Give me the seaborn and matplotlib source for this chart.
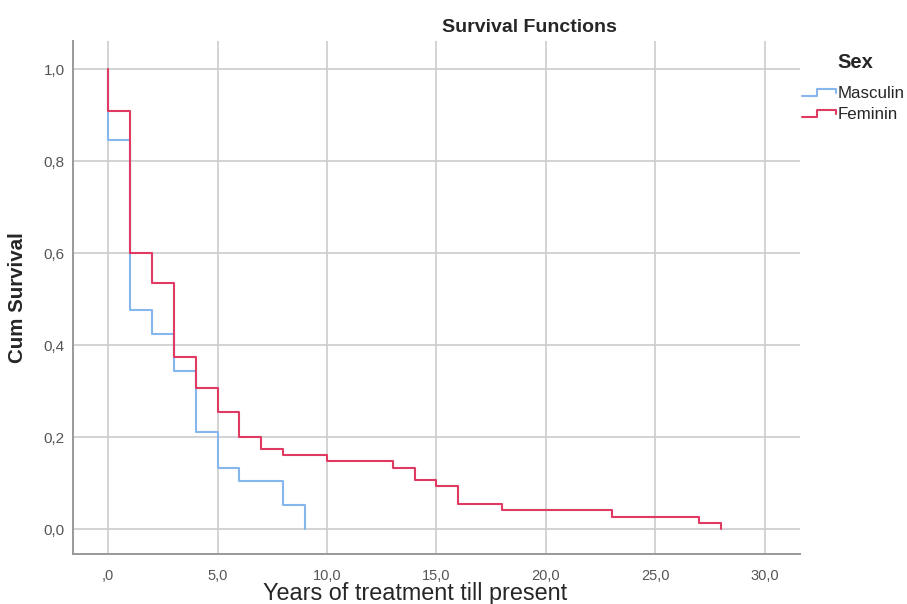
import numpy as np
import pandas as pd
import matplotlib
matplotlib.use("Agg")
import matplotlib.pyplot as plt
import seaborn as sns
from matplotlib.legend_handler import HandlerBase
from matplotlib.lines import Line2D

# Kaplan-Meier steps
men_years = [0, 0, 1, 2, 3, 4, 5, 6, 8, 9]
men_surv = [1.0, 0.846, 0.476, 0.423, 0.343, 0.211, 0.132, 0.105, 0.053, 0.0]
women_years = [0, 0, 1, 2, 3, 4, 5, 6, 7, 8, 10, 13, 14, 15, 16, 18, 23, 27, 28]
women_surv = [1.0, 0.91, 0.60, 0.536, 0.375, 0.307, 0.254, 0.201, 0.174, 0.161,
              0.147, 0.133, 0.107, 0.093, 0.054, 0.041, 0.027, 0.014, 0.0]
sex_labels = ["Masculin", "Feminin"]
x_ticks = [0, 5, 10, 15, 20, 25, 30]
x_ticklabels = [",0", "5,0", "10,0", "15,0", "20,0", "25,0", "30,0"]
y_ticks = [0.0, 0.2, 0.4, 0.6, 0.8, 1.0]
y_ticklabels = ["0,0", "0,2", "0,4", "0,6", "0,8", "1,0"]

df = pd.concat([
    pd.DataFrame({"years": men_years, "surv": men_surv, "Sex": sex_labels[0]}),
    pd.DataFrame({"years": women_years, "surv": women_surv, "Sex": sex_labels[1]}),
], ignore_index=True)

sns.set_style("white")
plt.rcParams['font.family'] = ['Liberation Sans', 'DejaVu Sans']

colors = {"Masculin": "#86b6ee", "Feminin": "#e03a62"}


class StepHandler(HandlerBase):
    # little step glyph like the SPSS legend
    def create_artists(self, legend, orig_handle, xdescent, ydescent, width, height, fontsize, trans):
        x0 = -xdescent
        y0 = -ydescent
        xs = [x0, x0 + 0.45 * width, x0 + 0.45 * width, x0 + width, x0 + width]
        ys = [y0 + 0.2 * height, y0 + 0.2 * height, y0 + 0.8 * height, y0 + 0.8 * height, y0 + 0.45 * height]
        line = Line2D(xs, ys, color=orig_handle.get_color(), lw=1.5, transform=trans)
        return [line]


fig = plt.figure(figsize=(9.07, 6.04), dpi=100)
ax = fig.add_axes([0.0805, 0.083, 0.8015, 0.849])

sns.lineplot(data=df, x="years", y="surv", hue="Sex", hue_order=sex_labels,
             palette=colors, estimator=None, sort=False, drawstyle="steps-post",
             lw=1.5, ax=ax)

ax.set_xlim(-1.6, 31.6)
ax.set_ylim(-0.054, 1.061)
ax.set_xticks(x_ticks)
ax.set_xticklabels(x_ticklabels)
ax.set_yticks(y_ticks)
ax.set_yticklabels(y_ticklabels)
ax.tick_params(length=0, labelsize=10.5, colors="#555555")
ax.tick_params(axis="x", pad=11)
ax.tick_params(axis="y", pad=6, labelsize=11)
ax.grid(True, color="#cccccc", lw=1.2)
ax.set_axisbelow(True)
for s in ["top", "right"]:
    ax.spines[s].set_visible(False)
for s in ["left", "bottom"]:
    ax.spines[s].set_color("#999999")
    ax.spines[s].set_linewidth(1.4)

ax.set_xlabel("Years of treatment till present", fontsize=16.8)
ax.xaxis.set_label_coords((415 - 73) / 727, -0.0545)
ax.set_ylabel("Cum Survival", fontsize=14.8, fontweight="bold")
ax.yaxis.set_label_coords(-0.063, 0.5)
fig.text(529 / 907, 1 - 27 / 604, "Survival Functions", ha="center", va="center",
         fontsize=14, fontweight="bold")
fig.text(837 / 907, 1 - 62 / 604, "Sex", ha="left", va="center",
         fontsize=14.5, fontweight="bold")

handles, labels = ax.get_legend_handles_labels()
ax.legend(handles, labels, handler_map={Line2D: StepHandler()},
          loc="upper left", bbox_to_anchor=(802 / 907, 1 - 86 / 604),
          bbox_transform=fig.transFigure, frameon=False, fontsize=12.2,
          handlelength=2.0, handletextpad=0.12, labelspacing=0.38,
          borderaxespad=0, borderpad=0)

fig.savefig("out.png", dpi=100)
